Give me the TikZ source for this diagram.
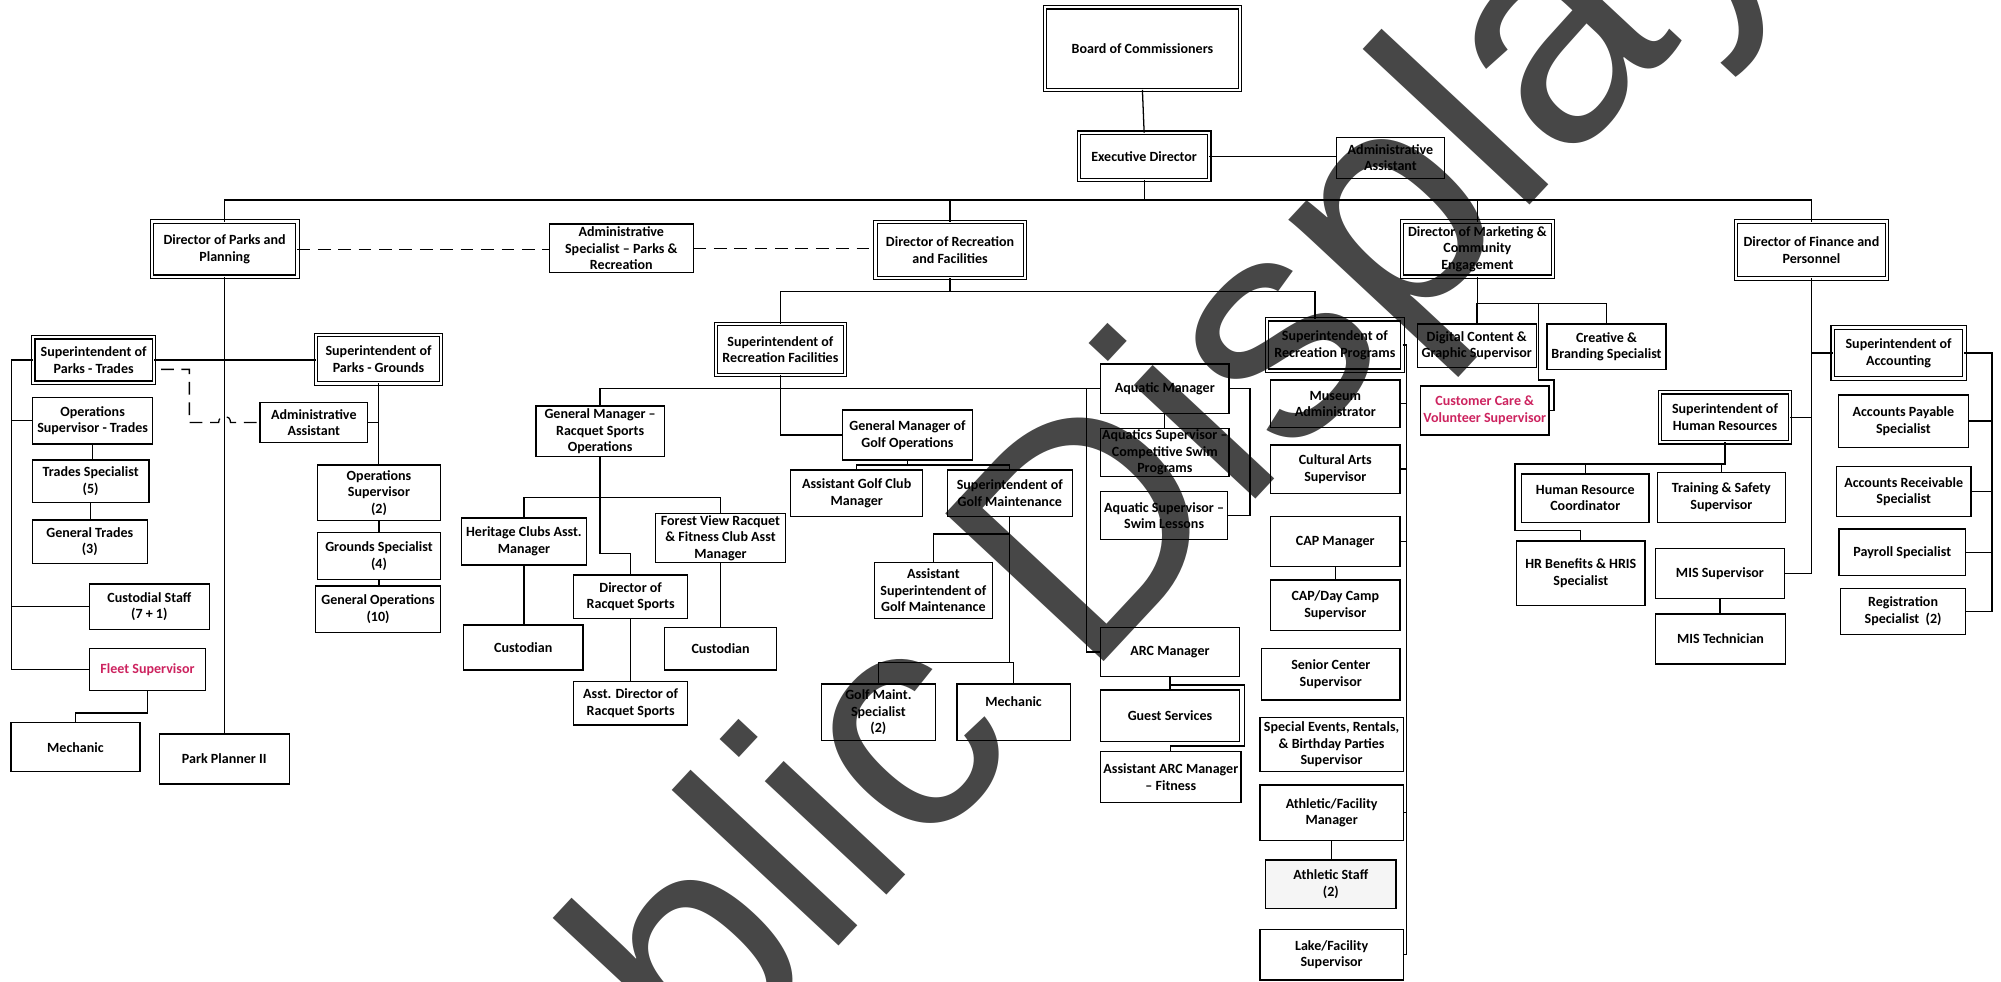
\documentclass[tikz,border=0pt]{standalone}
\usepackage{fontspec}
\setmainfont{Carlito}
\newfontfamily\wmfont{Liberation Sans}
\usetikzlibrary{fit}
\definecolor{fleetred}{RGB}{205,35,95}
% \orgbox[style]{name}{x1}{y1}{x2}{y2}{text}: a box between two corners, with centred text
\newcommand\orgbox[7][box]{%
  \node[#1, fit={(#3,#4)(#5,#6)}] (#2) {};
  \node[lbl] (#2-t) at (#2.center) {#7};}

\begin{document}
\begin{tikzpicture}[x=0.6pt,y=-0.6pt,
  box/.style={draw, line width=0.6pt, inner sep=0pt, outer sep=0pt},
  dbl/.style={box, double, double distance=1.1pt, line width=0.5pt},
  lbl/.style={align=center, inner sep=0pt, font=\bfseries\fontsize{6.6}{7.8}\selectfont},
  wire/.style={line width=0.6pt},
  dashwire/.style={wire, dash pattern=on 6pt off 3.6pt}]

\fill[white] (0,0) rectangle (1568,769);
\useasboundingbox (0,0) rectangle (1568,769);

% ---- top of the organisation
\orgbox[dbl]{boc}{818.8}{5.7}{971.6}{70.5}{Board of Commissioners}
\orgbox[dbl]{ed}{845.5}{104}{947.6}{141}{Executive Director}
\orgbox{edaa}{1047.4}{107.6}{1131.7}{139.7}{Administrative\\Assistant}

\orgbox[dbl]{dpark}{119}{173.7}{233}{216.8}{Director of Parks and\\Planning}
\orgbox{adspec}{430.4}{175.5}{543.3}{213.7}{Administrative\\Specialist – Parks \&\\Recreation}
\orgbox[dbl]{drec}{686}{174}{803}{218}{Director of Recreation\\and Facilities}
\orgbox[dbl]{dmkt}{1098.5}{173.7}{1216.8}{216.8}{Director of Marketing \&\\Community\\Engagement}
\orgbox[dbl]{dfin}{1360.3}{173.7}{1478.6}{218.1}{Director of Finance and\\Personnel}

% ---- parks and planning
\orgbox[dbl]{strd}{26.1}{264.3}{120.7}{299.9}{Superintendent of\\Parks - Trades}
\orgbox[dbl]{sgrd}{247.6}{262.7}{345.6}{300.4}{Superintendent of\\Parks - Grounds}
\orgbox{opst}{25.6}{311.3}{119.6}{347.9}{Operations\\Supervisor - Trades}
\orgbox{trspec}{25.3}{360.4}{116.8}{393.9}{Trades Specialist\\(5)}
\orgbox{gtrades}{25.3}{407.5}{115.4}{441.4}{General Trades\\(3)}
\orgbox{cust}{70}{457.6}{164}{493.1}{Custodial Staff\\(7 + 1)}
\orgbox{fleet}{70}{508}{161.2}{541.2}{\color{fleetred}Fleet Supervisor}
\orgbox{mech1}{8.6}{566.4}{109.7}{604.7}{Mechanic}
\orgbox{planner}{124.8}{575.1}{226.7}{614.3}{Park Planner II}
\orgbox{aapk}{203.7}{315.5}{288.1}{346.6}{Administrative\\Assistant}
\orgbox{opsup2}{248.6}{364.4}{345.3}{408}{Operations\\Supervisor\\(2)}
\orgbox{grspec}{248.6}{417.4}{345.3}{453.9}{Grounds Specialist\\(4)}
\orgbox{genops}{247.1}{459.2}{345.3}{495.8}{General Operations\\(10)}

% ---- recreation facilities
\orgbox[dbl]{srf}{561}{253.9}{662.1}{293.8}{Superintendent of\\Recreation Facilities}
\orgbox{gmrac}{420}{318.1}{520.5}{357.9}{General Manager –\\Racquet Sports\\Operations}
\orgbox{gmgolf}{660}{321.3}{762.2}{360.4}{General Manager of\\Golf Operations}
\orgbox{agcm}{619.6}{368.3}{723}{404.9}{Assistant Golf Club\\Manager}
\orgbox{sgm}{742.3}{368.3}{840.2}{404.9}{Superintendent of\\Golf Maintenance}
\orgbox{asgm}{685}{440.9}{777.8}{484.5}{Assistant\\Superintendent of\\Golf Maintenance}
\orgbox{gms}{643.6}{536}{733}{580.4}{Golf Maint.\\Specialist\\(2)}
\node[box, fit={(749.9,536)(838.6,580.4)}] (gmech) {};
\node[lbl] (gmech-t) at ([yshift=-8.5pt]gmech.north) {Mechanic};
\orgbox{her}{361.7}{406}{459.4}{442.7}{Heritage Clubs Asst.\\Manager}
\orgbox{forest}{513.7}{402.2}{615.4}{440.9}{Forest View Racquet\\\& Fitness Club Asst\\Manager}
\orgbox{drs}{449.4}{450.6}{539}{484.5}{Director of\\Racquet Sports}
\orgbox{cust1}{363.3}{489.7}{456.8}{525}{Custodian}
\orgbox{cust2}{520.8}{491.5}{608.5}{525}{Custodian}
\orgbox{adrs}{449.4}{534.2}{539}{568.1}{Asst. Director of\\Racquet Sports}
\orgbox{aqm}{862.5}{285.2}{963}{323.9}{Aquatic Manager}
\orgbox{acomp}{862.5}{335.6}{963}{373.5}{Aquatics Supervisor –\\Competitive Swim\\Programs}
\orgbox{aswim}{862.5}{385.3}{962}{422.6}{Aquatic Supervisor –\\Swim Lessons}
\orgbox{arc}{862.5}{491.5}{971.1}{530.2}{ARC Manager}
\orgbox{guest}{862.5}{540.7}{971.1}{581.2}{Guest Services}
\orgbox{asstarc}{862.5}{589}{972.4}{629}{Assistant ARC Manager\\– Fitness}

% ---- recreation programs
\orgbox[dbl]{srp}{993}{250.2}{1099.1}{290.5}{Superintendent of\\Recreation Programs}
\orgbox{museum}{995.7}{297.8}{1097}{335.1}{Museum\\Administrator}
\orgbox{cultural}{995.7}{348.7}{1097}{386.5}{Cultural Arts\\Supervisor}
\orgbox{capm}{995.7}{404.9}{1097}{444}{CAP Manager}
\orgbox{capday}{995.7}{454.5}{1097}{494.2}{CAP/Day Camp\\Supervisor}
\orgbox{senior}{988.6}{508}{1097}{548.5}{Senior Center\\Supervisor}
\orgbox{special}{987.3}{562.1}{1099.6}{604.7}{Special Events, Rentals,\\\& Birthday Parties\\Supervisor}
\orgbox{athfac}{987.3}{615.1}{1099.6}{658.7}{Athletic/Facility\\Manager}
\orgbox[box,fill=black!4]{athstaff}{991.8}{673.9}{1093.9}{711.7}{Athletic Staff\\(2)}
\orgbox{lake}{987.3}{728.2}{1099.6}{768}{Lake/Facility\\Supervisor}

% ---- marketing
\orgbox{dcg}{1110.6}{253.9}{1203.8}{287.8}{Digital Content \&\\Graphic Supervisor}
\orgbox{cbs}{1212.3}{253.9}{1305.4}{289.4}{Creative \&\\Branding Specialist}
\orgbox{ccv}{1113.2}{302.5}{1213.8}{340.9}{\color{fleetred}Customer Care \&\\\color{fleetred}Volunteer Supervisor}

% ---- finance and personnel
\orgbox[dbl]{sacc}{1436.1}{256.7}{1539.3}{296.5}{Superintendent of\\Accounting}
\orgbox{ap}{1440.7}{309.5}{1542.3}{350.5}{Accounts Payable\\Specialist}
\orgbox{ar}{1439.1}{365.7}{1544.4}{404.8}{Accounts Receivable\\Specialist}
\orgbox{pay}{1441}{414.5}{1540.2}{451.1}{Payroll Specialist}
\orgbox{reg}{1442.3}{461}{1540.2}{497}{Registration\\Specialist\ \ (2)}
\orgbox[dbl]{shr}{1300.9}{307.4}{1402.5}{346.6}{Superintendent of\\Human Resources}
\orgbox{hrc}{1192.3}{371.4}{1292.1}{409.3}{Human Resource\\Coordinator}
\orgbox{trs}{1298.6}{370.1}{1399.2}{409.3}{Training \& Safety\\Supervisor}
\orgbox{hrb}{1188.4}{423.9}{1289}{474.6}{HR Benefits \& HRIS\\Specialist}
\orgbox{mis}{1297.3}{429.6}{1398.2}{468.8}{MIS Supervisor}
\orgbox{mist}{1297.3}{481.1}{1399.2}{520.3}{MIS Technician}

% ---- connectors: top
\coordinate (busy) at (0,156.7);
\draw[wire] (boc.south) -- (ed.north);
\draw[wire] (ed.east) -- (ed.east -| edaa.west);
\draw[wire] (ed.south) -- (ed.south |- busy);
\draw[wire] (dpark.north) -- (dpark.north |- busy) -- (dfin.north |- busy) -- (dfin.north);
\draw[wire] (drec.north) -- (drec.north |- busy);
\draw[wire] (dmkt.north) -- (dmkt.north |- busy);
\draw[dashwire] (dpark.east) -- (dpark.east -| adspec.west);
\draw[dashwire] (adspec.east) -- (adspec.east -| drec.west);

% ---- connectors: parks
\draw[wire] (dpark.south) -- (dpark.south |- planner.north);
\draw[wire] (strd.east) -- (strd.east -| sgrd.west);
\coordinate (tsp) at (9.1,0);
\draw[wire] (strd.west) -- (strd.west -| tsp) |- (fleet.west);
\draw[wire] (opst.west -| tsp) -- (opst.west);
\draw[wire] (cust.west -| tsp) -- (cust.west);
\draw[wire] (opst.south) -- (opst.south |- trspec.north);
\draw[wire] (trspec.south) -- (trspec.south |- gtrades.north);
\draw[wire] (fleet.south) -- ++(0,17.5) -| (mech1.north);
\draw[wire] (sgrd.south) -- (sgrd.south |- opsup2.north);
\draw[wire] (opsup2.south) -- (opsup2.south |- grspec.north);
\draw[wire] (grspec.south) -- (grspec.south |- genops.north);
\draw[wire] (aapk.east) -- (aapk.east -| sgrd.south);
\coordinate (hop) at (dpark.south |- aapk.west);
\draw[dashwire] ([shift={(3.3pt,-4.4pt)}]strd.east) -- ++(22.2,0) |- ([xshift=-2.8pt]hop)
  .. controls +(0,-6.5) and +(0,-6.5) .. ([xshift=2.8pt]hop) -- (aapk.west);

% ---- connectors: recreation facilities
\coordinate (recbus) at (0,228.6);
\coordinate (srpin) at (1030.4,228.6);
\draw[wire] (drec.south) -- (drec.south |- recbus);
\draw[wire] (srf.north) -- (srf.north |- recbus) -- (srpin) -- (srpin |- srp.north);
\draw[wire] (srf.south) |- (gmgolf.west);
\draw[wire] (gmrac.north) |- (aqm.west);
\coordinate (aqsp) at (851.5,0);
\draw[wire] (aqm.west -| aqsp) |- (arc.west);
\draw[wire] (aqm.south) -- (acomp.north);
\draw[wire] (aqm.east) -- ++(16.5,0) |- (aswim.east);
\draw[wire] (arc.south) -- (guest.north);
\draw[wire] ([yshift=2.4pt]guest.north) -- ++(58.2,0) |- ([yshift=2.7pt]asstarc.north) -- (asstarc.north);

\coordinate (rbar) at (0,389.7);
\draw[wire] (gmrac.south) -- ++(0,75.7) -| (drs.north);
\draw[wire] (her.north) -- (her.north |- rbar) -- (forest.north |- rbar) -- (forest.north);
\draw[wire] (her.south) -- (her.south |- cust1.north);
\draw[wire] (forest.south) -- (forest.south |- cust2.north);
\draw[wire] (drs.south) -- (drs.south |- adrs.north);

\draw[wire] (gmgolf.south) -- ++(0,4);
\draw[wire] (agcm.north) -- ++(0,-3.9) -| (sgm.north);
\draw[wire] (sgm.south) -- ++(0,114.3);
\draw[wire] ([yshift=-8.1pt]sgm.south) -| (asgm.north);
\draw[wire] (gms.north) -- ++(0,-16.8) -| (gmech.north);

% ---- connectors: recreation programs
\coordinate (rsp) at (1102.2,0);
\draw[wire] (srp.east) -- (srp.east -| rsp) |- (lake.east);
\foreach \b in {museum,cultural,capm,athfac} \draw[wire] (\b.east) -- (\b.east -| rsp);
\draw[wire] (capm.south) -- (capm.south |- capday.north);
\draw[wire] (athfac.south) -- (athfac.south |- athstaff.north);

% ---- connectors: marketing
\draw[wire] (dmkt.south) -- (dmkt.south |- dcg.north);
\draw[wire] (dcg.north) -- ++(0,-16.2) -| (cbs.north);
\coordinate (ccx) at (1205.4,237.7);
\draw[wire] (ccx) -- ++(0,60.1) -- ++(12.3,0) |- (ccv.east);

% ---- connectors: finance and personnel
\draw[wire] (dfin.south) |- (mis.east);
\draw[wire] (dfin.south |- sacc.west) -- (sacc.west);
\draw[wire] (dfin.south |- shr.east) -- (shr.east);
\coordinate (accsp) at (1561,0);
\draw[wire] (sacc.east) -- (sacc.east -| accsp) |- (reg.east);
\foreach \b in {ap,ar,pay} \draw[wire] (\b.east) -- (\b.east -| accsp);
\coordinate (hrbar) at (1187.1,363.5);
\draw[wire] (shr.south) |- (hrbar) |- ([yshift=4.86pt]hrb.north) -- (hrb.north);
\draw[wire] (hrc.north) -- (hrc.north |- hrbar);
\draw[wire] (trs.north) -- (trs.north |- hrbar);
\draw[wire] (mis.south) -- (mis.south |- mist.north);

% ---- watermark across the chart
\node[font=\wmfont\fontsize{148}{148}\selectfont, rotate=47, anchor=base,
      text=black, text opacity=0.72, inner sep=0pt] (wm) at (875,508) {Public Display};
\end{tikzpicture}
\end{document}
